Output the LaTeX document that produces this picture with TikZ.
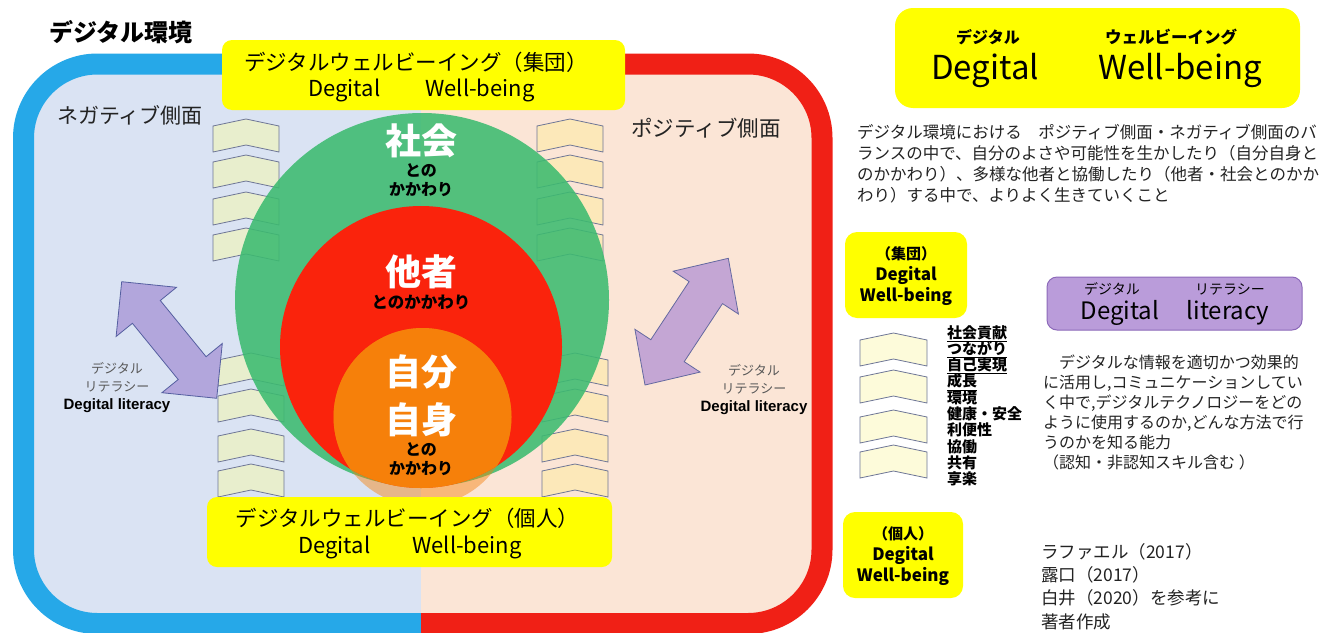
\documentclass[tikz,border=0pt]{standalone}
\usepackage{fontspec}
\setmainfont{Noto Sans CJK JP}
\newfontfamily\lsans{Liberation Sans}
\usetikzlibrary{calc}
\lineskiplimit=-30pt
\newcommand{\fsz}[2]{\fontsize{#1}{#2}\selectfont}
\newcommand{\mychev}[4]{%
  \filldraw[chev, fill=#4] (#1,#2+7) -- (#1+#3/2,#2) -- (#1+#3,#2+7) -- (#1+#3,#2+33) -- (#1+#3/2,#2+26) -- (#1,#2+33) -- cycle;}
\definecolor{frameblue}{RGB}{38,168,232}
\definecolor{framered}{RGB}{240,32,22}
\definecolor{fillblue}{RGB}{218,227,243}
\definecolor{fillpeach}{RGB}{251,229,214}
\definecolor{cgreen}{RGB}{60,187,112}
\definecolor{cred}{RGB}{250,35,12}
\definecolor{corange}{RGB}{246,128,10}
\definecolor{chevL}{RGB}{232,238,205}
\definecolor{chevR}{RGB}{252,232,185}
\definecolor{chevList}{RGB}{253,251,218}
\definecolor{chevline}{RGB}{110,118,150}
\definecolor{arrLf}{RGB}{178,166,220}
\definecolor{arrLd}{RGB}{85,95,160}
\definecolor{arrRf}{RGB}{196,166,212}
\definecolor{arrRd}{RGB}{100,105,160}
\definecolor{purpf}{RGB}{186,156,218}
\definecolor{purpd}{RGB}{140,105,185}
\definecolor{ybox}{RGB}{255,255,0}
\definecolor{txt}{RGB}{35,35,35}
\begin{document}
\begin{tikzpicture}[x=1pt,y=-1pt,
  chev/.style={draw=chevline, line width=0.8pt},
  yb/.style={fill=ybox, rounded corners=#1, inner sep=0pt},
  yb/.default=10pt,
  txtn/.style={inner sep=0pt, text=txt, align=center},
  circt/.style={inner sep=0pt, text=white, align=center, font=\fsz{36}{48}\bfseries},
  circs/.style={inner sep=0pt, text=black, align=center, font=\fsz{16}{19}\bfseries},
  litj/.style={inner sep=0pt, text=black!65, align=center, font=\fsz{13}{18}},
  lite/.style={inner sep=0pt, text=black, font=\lsans\bfseries\fsz{15}{18}},
  arrL/.style={fill=arrLf, draw=arrLd, line width=0.8pt, line join=miter},
  arrR/.style={fill=arrRf, draw=arrRd, line width=0.8pt, line join=miter}]
\useasboundingbox (0,0) rectangle (1337,632);
\fill[white] (0,0) rectangle (1337,632);

% frame fill
\begin{scope}
  \clip[rounded corners=74pt] (23.5,64) rectangle (822,623.5);
  \fill[fillblue] (0,0) rectangle (421,700);
  \fill[fillpeach] (421,0) rectangle (900,700);
\end{scope}
% frame borders
\begin{scope}
  \clip (0,0) rectangle (421,700);
  \draw[frameblue, line width=21pt, rounded corners=74pt] (23.5,64) rectangle (822,623.5);
\end{scope}
\begin{scope}
  \clip (421,0) rectangle (900,700);
  \draw[framered, line width=21pt, rounded corners=74pt] (23.5,64) rectangle (822,623.5);
\end{scope}

% chevrons (left / right columns)
\foreach \t in {119,155,192,228} {\mychev{213}{\t}{66}{chevL} \mychev{537}{\t}{66}{chevR}}
\foreach \t in {353,389,429,464} {\mychev{218}{\t}{66}{chevL} \mychev{542}{\t}{66}{chevR}}

% circles
\fill[cgreen, fill opacity=0.88] (422,300) circle[radius=187pt];
\fill[cred] (421,347) circle[radius=141pt];
\fill[corange, fill opacity=0.45] (422.5,417) circle[radius=89pt];
\begin{scope}
  \clip (421,347) circle[radius=141pt];
  \fill[corange] (422.5,417) circle[radius=89pt];
\end{scope}

% circle texts
\node[circt] (shakai) at (421,141) {社会};
\node[circs] (shakai2) at (421,180) {との\\かかわり};
\node[circt] (tasha) at (421,272) {他者};
\node[circs, font=\fsz{16.5}{19}\bfseries] (tasha2) at (421,302) {とのかかわり};
\node[circt] (jibun) at (421,396) {自分\\自身};
\node[circs] (jibun2) at (421,459) {との\\かかわり};

% purple double arrows
\filldraw[arrL] (121.7,281.7) -- (176.5,287.3) -- (160.3,300.5) -- (206.1,356.7) -- (222.3,343.5)
  -- (216.7,398.3) -- (161.9,392.7) -- (178.2,379.5) -- (132.4,323.3) -- (116.1,336.5) -- cycle;
\filldraw[arrR] (728.3,258.3) -- (738.4,314.0) -- (722.5,303.6) -- (684.2,361.7) -- (700.1,372.1)
  -- (645,385) -- (634.9,329.3) -- (650.8,339.7) -- (689.1,281.6) -- (673.2,271.2) -- cycle;

% literacy labels
\node[litj] (litL) at (117,377) {デジタル\\リテラシー};
\node[lite] (litLe) at (117,406) {Degital literacy};
\node[litj] (litR) at (754,379) {デジタル\\リテラシー};
\node[lite] (litRe) at (754,408) {Degital literacy};

% side labels and title
\node[txtn, font=\fsz{24}{26}\bfseries, text=black] (title) at (121,32) {デジタル環境};
\node[txtn, font=\fsz{21}{24}] (neg) at (130,115) {ネガティブ側面};
\node[txtn, font=\fsz{21.5}{24}] (pos) at (706,128) {ポジティブ側面};

% top and bottom yellow boxes
\node[yb, minimum width=403pt, minimum height=70pt] (topbox) at (423.5,75) {};
\node[txtn, text=black, font=\fsz{21.5}{24}] (topl1) at (416,62) {デジタルウェルビーイング（集団）};
\node[txtn, text=black, font=\fsz{22}{24}] (topl2) at (421.5,90) {Degital\hspace{45pt}Well-being};
\node[yb, minimum width=405pt, minimum height=70pt] (botbox) at (409.5,532) {};
\node[txtn, text=black, font=\fsz{21.5}{24}] (botl1) at (407.5,518) {デジタルウェルビーイング（個人）};
\node[txtn, text=black, font=\fsz{22}{24}] (botl2) at (410,547) {Degital\hspace{42pt}Well-being};

% right: big yellow box
\node[yb=18pt, minimum width=405pt, minimum height=100pt] (dwbox) at (1097.5,58) {};
\node[txtn, text=black, font=\fsz{16}{18}\bfseries] (dw1) at (988,37) {デジタル};
\node[txtn, text=black, font=\fsz{16.5}{18}\bfseries] (dw2) at (1171,37) {ウェルビーイング};
\node[txtn, text=black, font=\fsz{33}{36}] (dw3) at (985,70) {Degital};
\node[txtn, text=black, font=\fsz{33}{36}] (dw4) at (1180,70) {Well-being};

\node[txtn, anchor=north west, align=left, font=\fsz{16.5}{21}] (para1) at (857,124)
 {デジタル環境における　ポジティブ側面・ネガティブ側面のバ\\ランスの中で、自分のよさや可能性を生かしたり（自分自身と\\のかかわり）、多様な他者と協働したり（他者・社会とのかか\\わり）する中で、よりよく生きていくこと};

% small yellow boxes
\node[yb=12pt, minimum width=122pt, minimum height=86pt] (grpbox) at (906,275) {};
\node[txtn, text=black, font=\fsz{17}{21}\bfseries] (grpt) at (906,276) {{\fsz{15}{21}（集団）}\\Degital\\Well-being};
\node[yb=12pt, minimum width=120pt, minimum height=86pt] (indbox) at (903,555) {};
\node[txtn, text=black, font=\fsz{17}{21}\bfseries] (indt) at (903,556) {{\fsz{15}{21}（個人）}\\Degital\\Well-being};

% list chevrons
\foreach \t in {333,370,410,445} {\mychev{860}{\t}{67}{chevList}}
\node[txtn, text=black, anchor=north west, align=left, font=\fsz{15}{16.3}\bfseries] (list) at (947,325)
 {\underline{社会貢献}\\\underline{つながり}\\\underline{自己実現}\\\underline{成長}\\環境\\健康・安全\\利便性\\協働\\共有\\享楽};

% literacy box
\node[fill=purpf, draw=purpd, line width=1pt, rounded corners=10pt, minimum width=255pt, minimum height=53pt, inner sep=0pt] (litbox) at (1174.5,303.5) {};
\node[txtn, text=black, font=\fsz{14}{16}] (lb1) at (1112,289) {デジタル};
\node[txtn, text=black, font=\fsz{14}{16}] (lb2) at (1230,289) {リテラシー};
\node[txtn, text=black, font=\fsz{24}{26}] (lb3) at (1120,313) {Degital};
\node[txtn, text=black, font=\fsz{24}{26}] (lb4) at (1228,313) {literacy};

\node[txtn, anchor=north west, align=left, font=\fsz{16}{20}] (para2) at (1043,355)
 {　デジタルな情報を適切かつ効果的\\に活用し,コミュニケーションしてい\\く中で,デジタルテクノロジーをどの\\ように使用するのか,どんな方法で行\\うのかを知る能力\\（認知・非認知スキル含む ）};

\node[txtn, anchor=north west, align=left, font=\fsz{17.5}{23.3}] (refs) at (1041,543)
 {ラファエル（2017）\\露口（2017）\\白井（2020）を参考に\\著者作成};
\end{tikzpicture}
\end{document}
